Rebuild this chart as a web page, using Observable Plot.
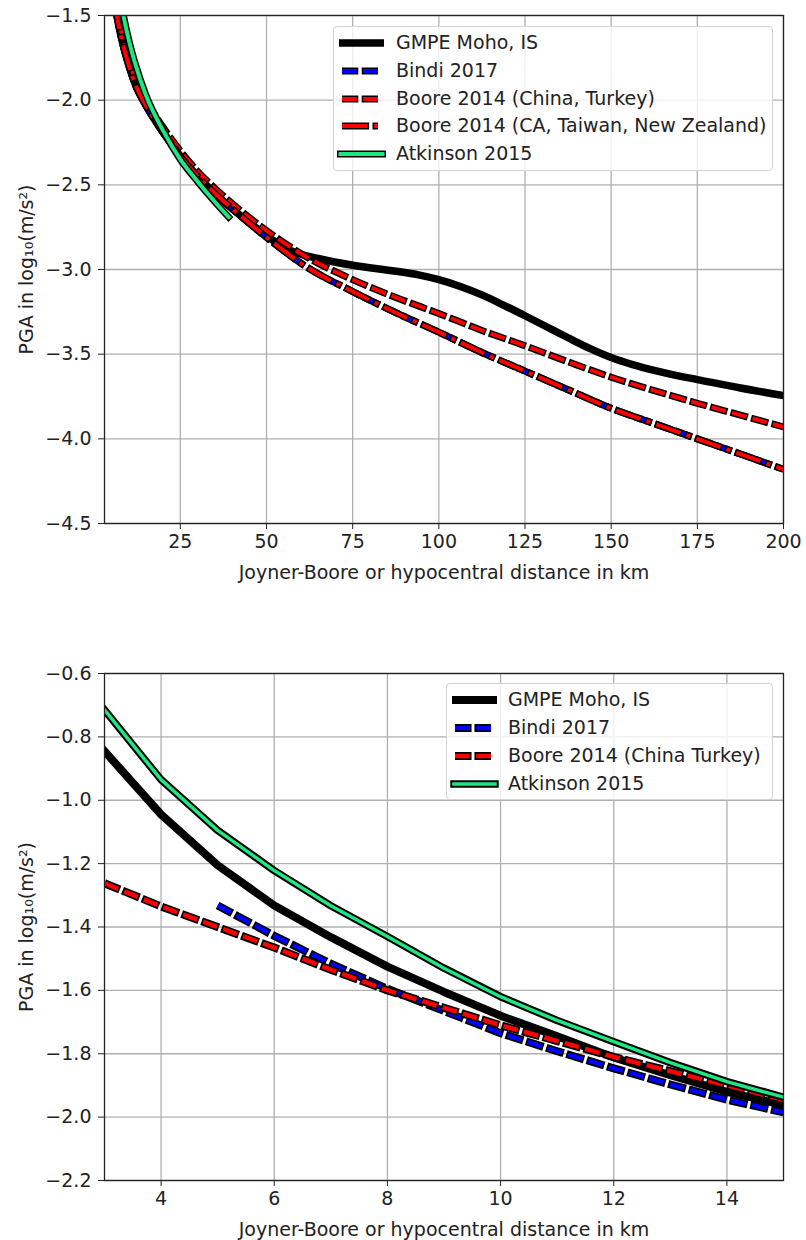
<!DOCTYPE html>
<html>
<head>
<meta charset="utf-8">
<script src="https://cdn.jsdelivr.net/npm/d3@7"></script>
<script src="https://cdn.jsdelivr.net/npm/@observablehq/plot@0.6"></script>
<style>
  body { margin: 0; background: #fff; font-family: "DejaVu Sans", sans-serif; }
  #root { position: relative; width: 806px; height: 1240px; }
  .panel { position: relative; width: 806px; height: 620px; }
  .legend { position: absolute; background: rgba(255,255,255,0.8); border: 1px solid #d4d4d4; border-radius: 4px; box-sizing: border-box; font-size: 19px; color: #222; }
  .legend .lab { position: absolute; white-space: nowrap; line-height: 22px; }
  .legend svg { position: absolute; overflow: visible; }
</style>
</head>
<body>
<div id="root"></div>
<script>
// ---------------- data: top panel (distance km, log10 PGA) ----------------
const topDistGMPE   = [6, 6.5, 8, 10, 12, 15, 20, 25, 30, 35, 40, 50, 55, 60, 65, 75, 87.5, 93.75, 100, 106.25, 112.5, 118.75, 125, 131.25, 137.5, 143.75, 150, 156.25, 162.5, 168.75, 175, 187.5, 200];
const topGMPE       = [-1.43, -1.49, -1.64, -1.79, -1.91, -2.03, -2.19, -2.33, -2.45, -2.55, -2.64, -2.80, -2.87, -2.91, -2.935, -2.975, -3.01, -3.03, -3.06, -3.10, -3.15, -3.21, -3.273, -3.338, -3.403, -3.466, -3.52, -3.562, -3.596, -3.625, -3.65, -3.70, -3.745];

const topDistBindi  = [6, 6.5, 8, 10, 12, 15, 20, 25, 30, 35, 40, 50, 62, 75, 87.5, 100, 112.5, 125, 137.5, 150, 162.5, 175, 187.5, 200];
const topBindi      = [-1.43, -1.49, -1.64, -1.79, -1.91, -2.03, -2.19, -2.33, -2.45, -2.55, -2.64, -2.81, -2.99, -3.13, -3.255, -3.37, -3.49, -3.60, -3.71, -3.82, -3.91, -4.00, -4.09, -4.18];

const topDistBooreCT = [6, 7, 8, 10, 12, 15, 20, 25, 30, 35, 40, 50, 62, 75, 87.5, 100, 112.5, 125, 137.5, 150, 162.5, 175, 187.5, 200];
const topBooreCT     = [-1.42, -1.51, -1.61, -1.76, -1.88, -2.00, -2.16, -2.30, -2.42, -2.52, -2.61, -2.77, -2.93, -3.06, -3.165, -3.26, -3.36, -3.45, -3.545, -3.636, -3.715, -3.79, -3.86, -3.93];

const topDistBooreCA = [6, 6.5, 8, 10, 12, 15, 20, 25, 30, 35, 40, 50, 62, 75, 87.5, 100, 112.5, 125, 137.5, 150, 162.5, 175, 187.5, 200];
const topBooreCA     = [-1.43, -1.49, -1.64, -1.79, -1.91, -2.03, -2.19, -2.33, -2.45, -2.55, -2.64, -2.81, -2.99, -3.13, -3.255, -3.37, -3.49, -3.60, -3.71, -3.82, -3.91, -4.00, -4.09, -4.18];

const topDistAtkinson = [8, 9, 10, 12, 15, 20, 25, 30, 35, 39];
const topAtkinson     = [-1.45, -1.55, -1.64, -1.79, -1.97, -2.18, -2.35, -2.48, -2.60, -2.69];

// ---------------- data: bottom panel ----------------
const botDist        = [3, 4, 5, 6, 7, 8, 9, 10, 11, 12, 13, 14, 15];
const botGMPE        = [-0.845, -1.045, -1.205, -1.332, -1.432, -1.525, -1.605, -1.68, -1.745, -1.812, -1.868, -1.92, -1.962];
const botDistBindi   = [5, 6, 7, 8, 9, 10, 11, 12, 13, 14, 15];
const botBindi       = [-1.332, -1.428, -1.516, -1.595, -1.665, -1.735, -1.792, -1.846, -1.897, -1.945, -1.985];
const botBooreCT     = [-1.262, -1.335, -1.40, -1.465, -1.535, -1.60, -1.655, -1.71, -1.76, -1.81, -1.855, -1.90, -1.945];
const botAtkinson    = [-0.715, -0.935, -1.095, -1.222, -1.333, -1.43, -1.53, -1.62, -1.695, -1.762, -1.828, -1.888, -1.937];

// ---------------- ticks & labels ----------------
const topXTicks = [25, 50, 75, 100, 125, 150, 175, 200];
const topYTicks = [-1.5, -2.0, -2.5, -3.0, -3.5, -4.0, -4.5];
const botXTicks = [4, 6, 8, 10, 12, 14];
const botYTicks = [-0.6, -0.8, -1.0, -1.2, -1.4, -1.6, -1.8, -2.0, -2.2];
const xLabel = "Joyner-Boore or hypocentral distance in km";
const yLabel = "PGA in log₁₀(m/s²)";
const topNames = ["GMPE Moho, IS", "Bindi 2017", "Boore 2014 (China, Turkey)", "Boore 2014 (CA, Taiwan, New Zealand)", "Atkinson 2015"];
const botNames = ["GMPE Moho, IS", "Bindi 2017", "Boore 2014 (China Turkey)", "Atkinson 2015"];

// ---------------- styles ----------------
const DASH = [14.8, 6.4];
const DASHDOT = [25.6, 6.4, 4, 6.4];
const GREEN = "#1fe681";

const zip = (xs, ys) => xs.map((x, i) => ({x, y: ys[i]}));

function blackDash(dash, e) { return dash.map((d, i) => i % 2 === 0 ? d + 2 * e : Math.max(0.01, d - 2 * e)); }

function lineMarks(data, st, curve) {
  const marks = [];
  if (st.outline) {
    const e = (st.ow - st.w) / 2;
    marks.push(Plot.line(data, {
      x: "x", y: "y", stroke: "#000", strokeWidth: st.ow, curve, clip: true,
      strokeLinecap: st.dash ? "butt" : "square",
      strokeDasharray: st.dash ? blackDash(st.dash, e).join(",") : undefined,
      strokeDashoffset: st.dash ? e : undefined
    }));
  }
  marks.push(Plot.line(data, {
    x: "x", y: "y", stroke: st.color, strokeWidth: st.w, curve, clip: true,
    strokeLinecap: st.dash ? "butt" : "square",
    strokeDasharray: st.dash ? st.dash.join(",") : undefined
  }));
  return marks;
}

function makeChart(o) {
  return Plot.plot({
    width: 806, height: 620,
    marginLeft: 104, marginRight: 23, marginTop: o.marginTop, marginBottom: o.marginBottom,
    x: {domain: o.xDomain},
    y: {domain: o.yDomain},
    style: {fontFamily: "DejaVu Sans", fontSize: "19px", color: "#222", background: "white", overflow: "visible"},
    marks: [
      Plot.gridX(o.xTicks, {stroke: "#b0b0b0", strokeOpacity: 1, strokeWidth: 1.3}),
      Plot.gridY(o.yTicks, {stroke: "#b0b0b0", strokeOpacity: 1, strokeWidth: 1.3}),
      ...o.series.flatMap(s => lineMarks(s.data, s.style, o.curve)),
      Plot.frame({stroke: "#222", strokeWidth: 1.3}),
      Plot.axisX(o.xTicks, {tickSize: 6, tickPadding: 5, label: null, tickFormat: d => String(d), fontSize: 19}),
      Plot.axisY(o.yTicks, {tickSize: 6, tickPadding: 7, label: null, tickFormat: d3.format(".1f"), fontSize: 19}),
      Plot.text([xLabel], {text: d => d, frameAnchor: "bottom", dy: 49, textAnchor: "middle", lineAnchor: "middle", fontSize: 19, fill: "#222"}),
      Plot.text([yLabel], {text: d => d, frameAnchor: "left", dx: -78, rotate: -90, textAnchor: "middle", lineAnchor: "middle", fontSize: 19, fill: "#222"})
    ]
  });
}

function makeLegend(panel, entries, box) {
  const div = document.createElement("div");
  div.className = "legend";
  Object.assign(div.style, {left: box.left + "px", top: box.top + "px", width: box.width + "px", height: box.height + "px"});
  entries.forEach((en, i) => {
    const cy = box.first + i * box.step;
    const st = en.style;
    const svg = d3.create("svg").attr("width", 50).attr("height", 14)
      .style("left", "0px").style("top", (cy - 7) + "px");
    const x1 = st.dash ? 8 : 5, x2 = st.dash ? 44 : 50;
    if (st.outline) {
      const e = (st.ow - st.w) / 2;
      svg.append("line").attr("x1", st.dash ? x1 : x1 + e).attr("x2", st.dash ? x2 : x2 - e).attr("y1", 7).attr("y2", 7)
        .attr("stroke", "#000").attr("stroke-width", st.ow)
        .attr("stroke-linecap", st.dash ? "butt" : "square")
        .attr("stroke-dasharray", st.dash ? blackDash(st.dash, e).join(",") : null)
        .attr("stroke-dashoffset", st.dash ? e : null);
    }
    const e2 = st.outline ? (st.ow - st.w) / 2 : 0;
    svg.append("line").attr("x1", st.dash ? x1 : x1 + e2).attr("x2", st.dash ? x2 : x2 - e2).attr("y1", 7).attr("y2", 7)
      .attr("stroke", st.color).attr("stroke-width", st.w)
      .attr("stroke-linecap", st.dash ? "butt" : (st.outline ? "square" : "butt"))
      .attr("stroke-dasharray", st.dash ? st.dash.join(",") : null);
    div.appendChild(svg.node());
    const lab = document.createElement("div");
    lab.className = "lab";
    lab.textContent = en.label;
    Object.assign(lab.style, {left: box.tx + "px", top: (cy - 12) + "px"});
    div.appendChild(lab);
  });
  panel.appendChild(div);
}

const root = document.getElementById("root");

// ---------------- top panel ----------------
const stGMPE = {color: "#000", w: 7.5, outline: false};
const stBindi = {color: "#0000ff", w: 4, ow: 7, outline: true, dash: DASH};
const stBooreCT = {color: "#ff0000", w: 4, ow: 7, outline: true, dash: DASH};
const stBooreCA = {color: "#ff0000", w: 4, ow: 7, outline: true, dash: DASHDOT};
const stAtk = {color: GREEN, w: 4, ow: 7, outline: true};

const topSeries = [
  {data: zip(topDistGMPE, topGMPE), style: stGMPE},
  {data: zip(topDistBindi, topBindi), style: stBindi},
  {data: zip(topDistBooreCT, topBooreCT), style: stBooreCT},
  {data: zip(topDistBooreCA, topBooreCA), style: stBooreCA},
  {data: zip(topDistAtkinson, topAtkinson), style: stAtk}
];
const p1 = document.createElement("div"); p1.className = "panel"; root.appendChild(p1);
p1.appendChild(makeChart({
  marginTop: 15, marginBottom: 97, xDomain: [3, 200], yDomain: [-4.5, -1.5],
  xTicks: topXTicks, yTicks: topYTicks, series: topSeries, curve: "monotone-x"
}));
makeLegend(p1, topSeries.map((s, i) => ({label: topNames[i], style: s.style})),
  {left: 333, top: 26, width: 440, height: 145, first: 16, step: 27.75, tx: 62});

// ---------------- bottom panel ----------------
const stGMPE2 = {color: "#000", w: 8, outline: false};
const stBindi2 = {color: "#0000ff", w: 4.5, ow: 8, outline: true, dash: DASH};
const stBooreCT2 = {color: "#ff0000", w: 4.5, ow: 8, outline: true, dash: DASH};
const stAtk2 = {color: GREEN, w: 3.5, ow: 7.5, outline: true};
const botSeries = [
  {data: zip(botDist, botGMPE), style: stGMPE2},
  {data: zip(botDistBindi, botBindi), style: stBindi2},
  {data: zip(botDist, botBooreCT), style: stBooreCT2},
  {data: zip(botDist, botAtkinson), style: stAtk2}
];
const p2 = document.createElement("div"); p2.className = "panel"; root.appendChild(p2);
p2.appendChild(makeChart({
  marginTop: 53, marginBottom: 60, xDomain: [3, 15], yDomain: [-2.2, -0.6],
  xTicks: botXTicks, yTicks: botYTicks, series: botSeries, curve: "linear"
}));
makeLegend(p2, botSeries.map((s, i) => ({label: botNames[i], style: s.style})),
  {left: 446, top: 63, width: 327, height: 117, first: 16, step: 28, tx: 61});
</script>
</body>
</html>
